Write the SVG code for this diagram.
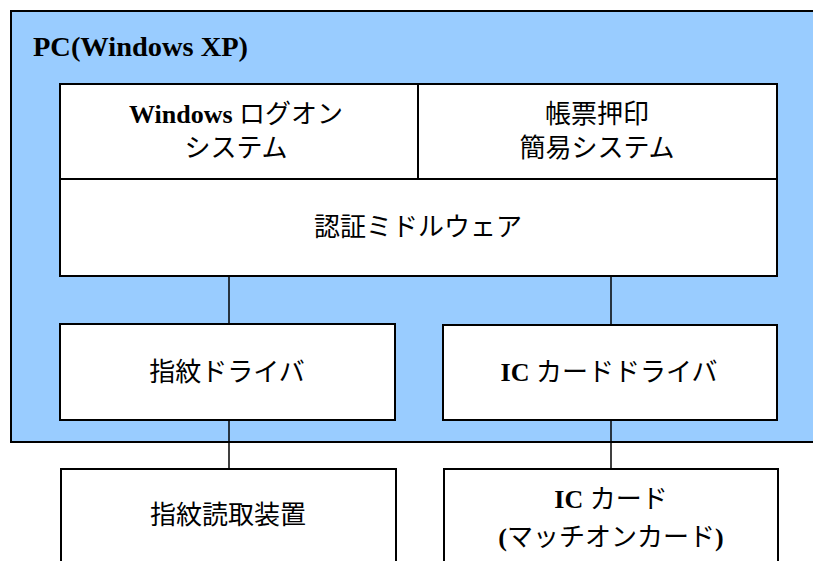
<svg xmlns="http://www.w3.org/2000/svg" width="813" height="561" viewBox="0 0 813 561">
<style>
.box{fill:#fff;stroke:#000;stroke-width:2}
.t{font-family:"Liberation Serif","Noto Sans CJK JP",serif;font-size:26px;fill:#000;text-anchor:middle}
.b{font-weight:bold}
.c{stroke:#000;stroke-width:1.5;fill:none}
</style>
<rect width="813" height="561" fill="#fff"/>
<g id="pc">
<rect x="11" y="11" width="812" height="431" fill="#99ccff" stroke="#000" stroke-width="2"/>
<text x="33" y="56" font-family="Liberation Serif,serif" font-weight="bold" font-size="27" textLength="215" lengthAdjust="spacingAndGlyphs">PC(Windows XP)</text>
</g>
<g id="connectors">
<line class="c" x1="229" y1="276" x2="229" y2="324"/>
<line class="c" x1="611" y1="276" x2="611" y2="325"/>
<line class="c" x1="229" y1="420" x2="229" y2="469"/>
<line class="c" x1="611" y1="420" x2="611" y2="469"/>
</g>
<g id="logon">
<rect class="box" x="60" y="84" width="358" height="95"/>
<text class="t" x="236" y="123"><tspan class="b">Windows</tspan> ログオン</text>
<text class="t" x="236" y="157">システム</text>
</g>
<g id="stamp">
<rect class="box" x="418" y="84" width="359" height="95"/>
<text class="t" x="597" y="123">帳票押印</text>
<text class="t" x="597" y="157">簡易システム</text>
</g>
<g id="middleware">
<rect class="box" x="60" y="179" width="717" height="97"/>
<text class="t" x="418" y="236">認証ミドルウェア</text>
</g>
<g id="fpdriver">
<rect class="box" x="60" y="324" width="335" height="96"/>
<text class="t" x="227" y="381">指紋ドライバ</text>
</g>
<g id="icdriver">
<rect class="box" x="443" y="325" width="334" height="95"/>
<text class="t" x="609" y="381"><tspan class="b">IC</tspan> カードドライバ</text>
</g>
<g id="fpreader">
<rect class="box" x="61" y="469" width="335" height="110"/>
<text class="t" x="228" y="524">指紋読取装置</text>
</g>
<g id="iccard">
<rect class="box" x="444" y="469" width="334" height="110"/>
<text class="t" x="611" y="508"><tspan class="b">IC</tspan> カード</text>
<text class="t" x="611" y="546"><tspan class="b">(</tspan>マッチオンカード<tspan class="b">)</tspan></text>
</g>
</svg>
